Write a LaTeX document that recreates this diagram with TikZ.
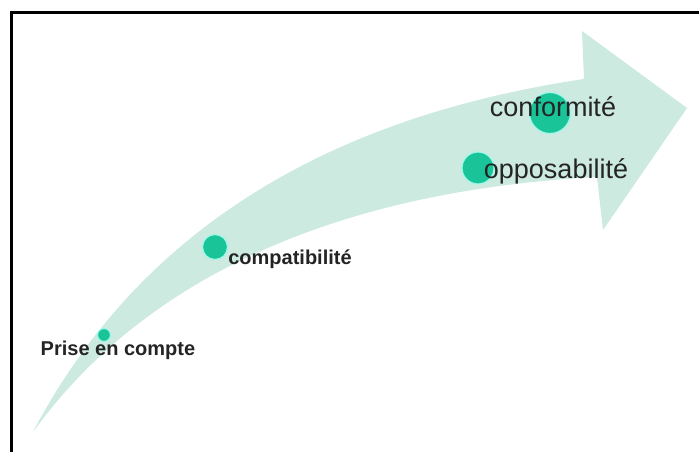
\documentclass[tikz,border=0pt]{standalone}
\usepackage{fontspec}
\setmainfont{Liberation Sans}

\definecolor{bandgreen}{RGB}{204,234,224}
\definecolor{dotgreen}{RGB}{24,196,152}
\definecolor{dotrim}{RGB}{160,246,232}
\definecolor{labelgray}{RGB}{36,36,36}

\begin{document}
\begin{tikzpicture}[x=1pt,y=-1pt,
    dot/.style={circle,fill=dotgreen,draw=dotrim,line width=1.2pt,inner sep=0pt,minimum size=#1},
    dot/.default=20pt,
    biglabel/.style={text=labelgray,font=\fontsize{27}{30}\selectfont,anchor=base,inner sep=0pt},
    smalllabel/.style={text=labelgray,font=\bfseries\fontsize{20}{24}\selectfont,anchor=base,inner sep=0pt}]
    % Fix the page and paint it white
    \useasboundingbox (0,0) rectangle (699,452);
    \fill[white] (0,0) rectangle (699,452);

    % Draw the frame (only left and top edges show)
    \draw[line width=2.5pt] (11.5,452) -- (11.5,12.3) -- (699,12.3);

    % Draw the curved arrow
    \fill[bandgreen] (33,432) .. controls (160,190) and (390,108) .. (584,79)
        -- (582,31) -- (687,108) -- (603,230) -- (597,177)
        .. controls (350,190) and (150,270) .. (33,432) -- cycle;

    % Draw the dots along the arrow
    \node[dot=41pt] (confdot) at (550,113) {};
    \node[dot=32pt] (oppodot) at (478,168) {};
    \node[dot=25pt] (compatdot) at (215,247) {};
    \node[dot=13pt] (prisedot) at (104,335) {};

    % Label the steps
    \node[biglabel] (conf) at (553,116) {conformité};
    \node[biglabel] (oppo) at (556,178) {opposabilité};
    \node[smalllabel] (compat) at (290,264) {compatibilité};
    \node[smalllabel] (prise) at (118,355) {Prise en compte};
\end{tikzpicture}
\end{document}
